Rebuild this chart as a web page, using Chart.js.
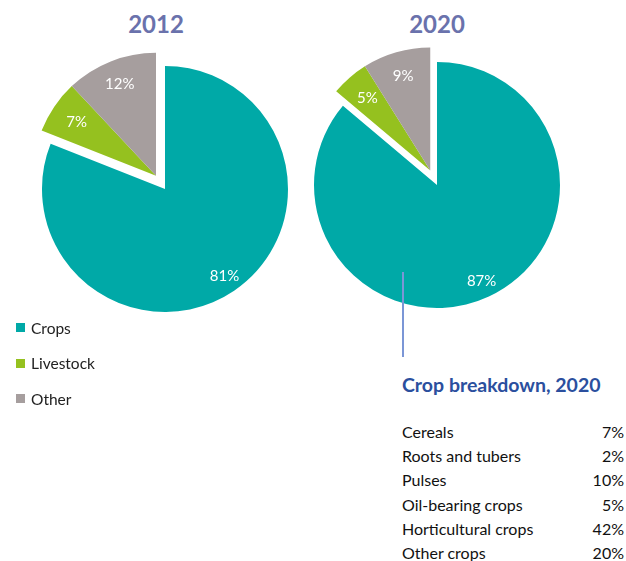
<!DOCTYPE html>
<html>
<head>
<meta charset="utf-8">
<script src="https://cdn.jsdelivr.net/npm/chart.js@4.4.1/dist/chart.umd.min.js"></script>
<style>
  body { margin: 0; background: #fff; font-family: Lato, "Open Sans", sans-serif; }
  #page { position: relative; width: 626px; height: 561px; overflow: hidden; }
  .pie { position: absolute; }
  .year { position: absolute; width: 120px; text-align: center; font-weight: bold;
          font-size: 24px; line-height: 24px; color: #6A72AC; }
  #legend { position: absolute; left: 16px; top: 318px; }
  #legend div { display: flex; align-items: center; height: 19px; margin-bottom: 16.5px;
                font-size: 15.5px; color: #222; }
  #legend span { display: inline-block; width: 9px; height: 9px; margin-right: 6px; }
  #leader { position: absolute; left: 402px; top: 272px; width: 2px; height: 85px; background: #7B96D6; }
  #cropTitle { position: absolute; left: 402px; top: 375px; font-size: 19.5px; line-height: 19px;
               font-weight: bold; color: #2B4F9E; }
  #cropTable { position: absolute; left: 402px; top: 420px; width: 222px; border-collapse: collapse;
               font-size: 16px; color: #111; }
  #cropTable td { padding: 0; height: 24.2px; line-height: 24.2px; }
  #cropTable td.v { text-align: right; }
</style>
</head>
<body>
<div id="page">
  <div class="year" style="left:96px; top:12px;">2012</div>
  <div class="year" style="left:377px; top:12px;">2020</div>
  <canvas id="pie2012" class="pie" width="300" height="300" style="left:15px; top:39px;"></canvas>
  <canvas id="pie2020" class="pie" width="300" height="300" style="left:287px; top:35px;"></canvas>
  <div id="legend"></div>
  <div id="leader"></div>
  <div id="cropTitle">Crop breakdown, 2020</div>
  <table id="cropTable"></table>
</div>
<script>
// data
const categories = ["Crops", "Livestock", "Other"];
const share2012 = [81, 7, 12];
const share2020 = [87, 5, 9];
const cropTypes = ["Cereals", "Roots and tubers", "Pulses", "Oil-bearing crops", "Horticultural crops", "Other crops"];
const cropShares = [7, 2, 10, 5, 42, 20];

const colors = ["#00A9A7", "#95C11F", "#A69E9E"];

// pull livestock + other out together, along the middle of the pair
const explodePlugin = {
  id: "explode",
  afterDatasetUpdate(chart, args, opts) {
    const arcs = args.meta.data.filter((a, i) => opts.slices[i]);
    if (!arcs.length) return;
    const start = Math.min(...arcs.map(a => a.startAngle));
    const end = Math.max(...arcs.map(a => a.endAngle));
    const mid = (start + end) / 2;
    arcs.forEach(a => {
      a.x += Math.cos(mid) * opts.distance;
      a.y += Math.sin(mid) * opts.distance;
    });
  }
};

// percent labels inside slices
const labelPlugin = {
  id: "sliceLabels",
  afterDatasetsDraw(chart, args, opts) {
    const ctx = chart.ctx;
    const meta = chart.getDatasetMeta(0);
    const values = chart.data.datasets[0].data;
    ctx.save();
    ctx.font = "15px Lato";
    ctx.fillStyle = "#fff";
    ctx.textAlign = "center";
    ctx.textBaseline = "middle";
    meta.data.forEach((arc, i) => {
      const mid = (arc.startAngle + arc.endAngle) / 2;
      const r = arc.outerRadius * opts.ratio[i];
      ctx.fillText(values[i] + "%", arc.x + Math.cos(mid) * r, arc.y + Math.sin(mid) * r);
    });
    ctx.restore();
  }
};

function makePie(id, values) {
  const ctx = document.getElementById(id).getContext("2d");
  return new Chart(ctx, {
    type: "pie",
    data: {
      labels: categories,
      datasets: [{ data: values, backgroundColor: colors, borderWidth: 0 }]
    },
    options: {
      responsive: false,
      animation: false,
      events: [],
      layout: { padding: 27 },
      plugins: {
        legend: { display: false },
        tooltip: { enabled: false },
        explode: { slices: [false, true, true], distance: 16 },
        sliceLabels: { ratio: [0.86, 0.78, 0.8] }
      }
    },
    plugins: [explodePlugin, labelPlugin]
  });
}

makePie("pie2012", share2012);
makePie("pie2020", share2020);

// legend
const legend = document.getElementById("legend");
categories.forEach((c, i) => {
  const row = document.createElement("div");
  row.innerHTML = '<span style="background:' + colors[i] + '"></span>' + c;
  legend.appendChild(row);
});

// crop breakdown table
const table = document.getElementById("cropTable");
cropTypes.forEach((t, i) => {
  const tr = document.createElement("tr");
  tr.innerHTML = "<td>" + t + '</td><td class="v">' + cropShares[i] + "%</td>";
  table.appendChild(tr);
});
</script>
</body>
</html>
